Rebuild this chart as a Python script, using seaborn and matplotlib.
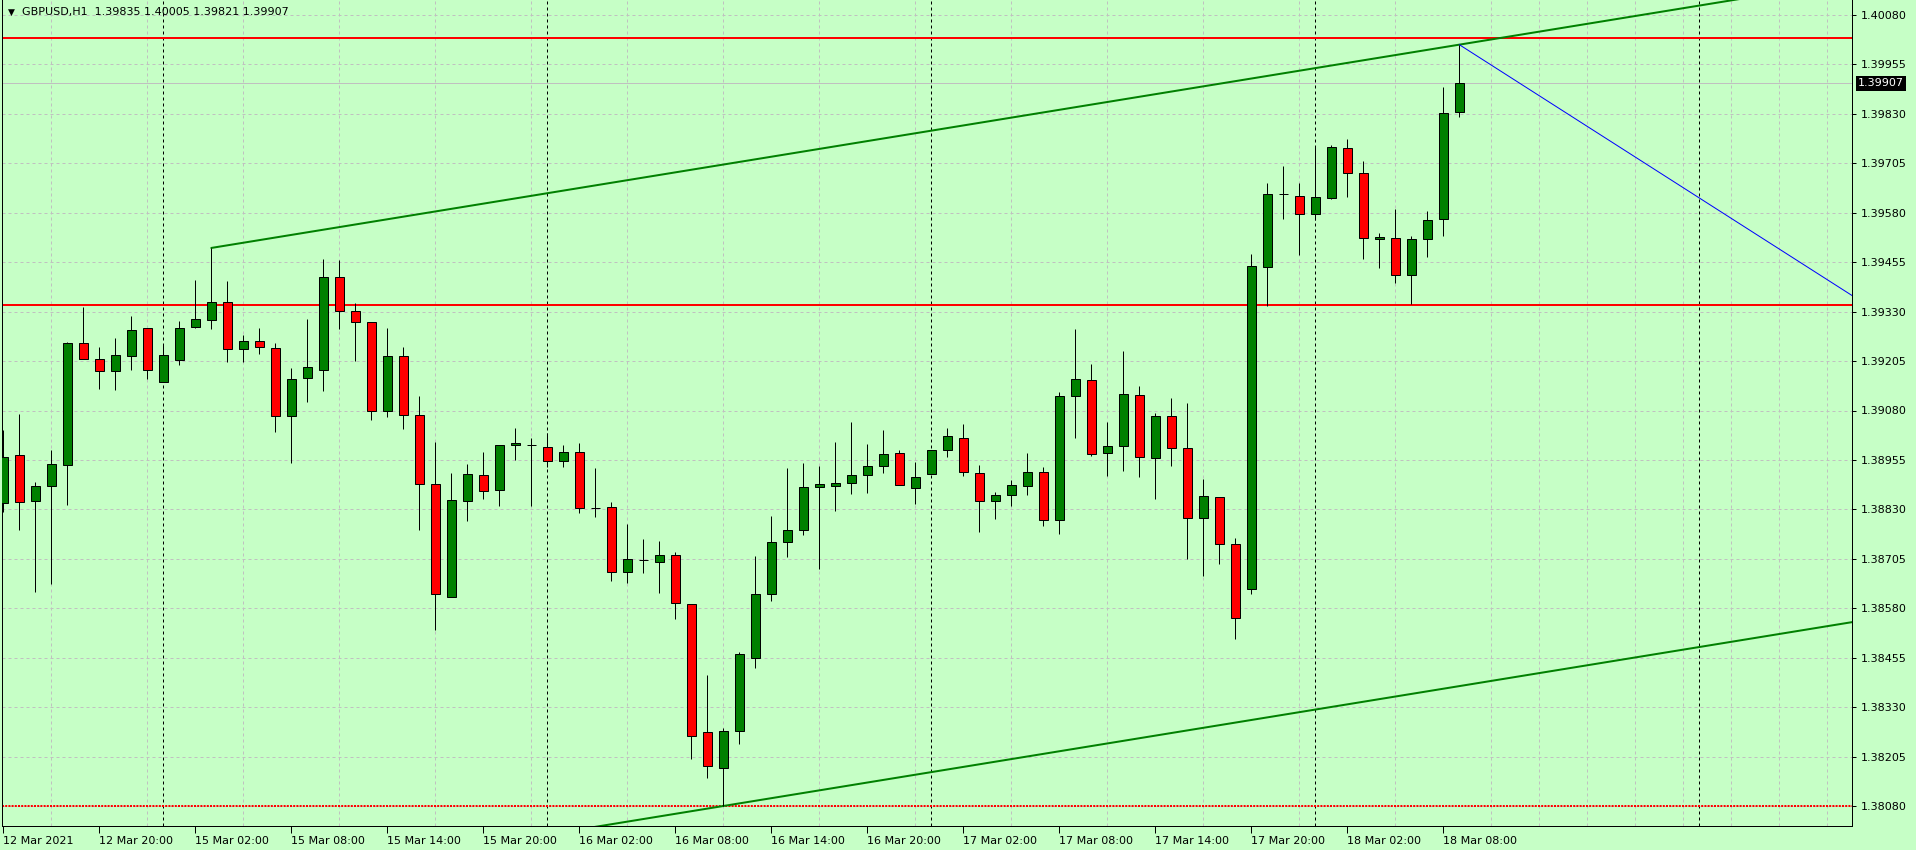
import numpy as np
import pandas as pd
import seaborn as sns
import matplotlib.pyplot as plt
import matplotlib.transforms as mtransforms

# GBPUSD H1, first bar = 12 Mar 2021 14:00
opens = [1.38845, 1.38967, 1.38850, 1.38888, 1.38941, 1.39250, 1.39209, 1.39179, 1.39217, 1.39288,
         1.39151, 1.39207, 1.39290, 1.39308, 1.39354, 1.39235, 1.39255, 1.39237, 1.39065, 1.39161,
         1.39182, 1.39417, 1.39331, 1.39303, 1.39078, 1.39217, 1.39068, 1.38893, 1.38608, 1.38850,
         1.38916, 1.38878, 1.38992, 1.38994, 1.38987, 1.38952, 1.38974, 1.38834, 1.38835, 1.38672,
         1.38702, 1.38698, 1.38714, 1.38590, 1.38266, 1.38177, 1.38269, 1.38453, 1.38615, 1.38748,
         1.38777, 1.38886, 1.38888, 1.38896, 1.38916, 1.38939, 1.38972, 1.38883, 1.38919, 1.38979,
         1.39010, 1.38921, 1.38850, 1.38866, 1.38888, 1.38924, 1.38802, 1.39116, 1.39156, 1.38972,
         1.38990, 1.39118, 1.38959, 1.39065, 1.38984, 1.38807, 1.38861, 1.38742, 1.38628, 1.39442,
         1.39627, 1.39622, 1.39576, 1.39617, 1.39743, 1.39680, 1.39513, 1.39515, 1.39422, 1.39513,
         1.39563, 1.39835]
highs = [1.39031, 1.39071, 1.38899, 1.38980, 1.39253, 1.39342, 1.39241, 1.39263, 1.39319, 1.39288,
         1.39246, 1.39306, 1.39410, 1.39491, 1.39407, 1.39270, 1.39288, 1.39250, 1.39187, 1.39311,
         1.39463, 1.39460, 1.39351, 1.39303, 1.39288, 1.39240, 1.39116, 1.39000, 1.38921, 1.38944,
         1.38975, 1.38992, 1.39036, 1.39010, 1.39022, 1.38992, 1.38998, 1.38935, 1.38849, 1.38793,
         1.38754, 1.38749, 1.38722, 1.38590, 1.38411, 1.38276, 1.38469, 1.38712, 1.38813, 1.38935,
         1.38947, 1.38940, 1.39000, 1.39051, 1.38995, 1.39031, 1.38979, 1.38950, 1.38979, 1.39036,
         1.39046, 1.38942, 1.38874, 1.38904, 1.38972, 1.38936, 1.39126, 1.39286, 1.39198, 1.39051,
         1.39230, 1.39142, 1.39074, 1.39112, 1.39099, 1.38907, 1.38861, 1.38758, 1.39475, 1.39654,
         1.39698, 1.39654, 1.39748, 1.39751, 1.39766, 1.39710, 1.39528, 1.39589, 1.39520, 1.39584,
         1.39897, 1.40005]
lows = [1.38824, 1.38779, 1.38622, 1.38641, 1.38842, 1.39209, 1.39135, 1.39133, 1.39182, 1.39160,
        1.39151, 1.39196, 1.39288, 1.39287, 1.39202, 1.39202, 1.39222, 1.39026, 1.38948, 1.39102,
        1.39129, 1.39287, 1.39206, 1.39057, 1.39064, 1.39034, 1.38779, 1.38526, 1.38608, 1.38801,
        1.38857, 1.38839, 1.38955, 1.38839, 1.38938, 1.38938, 1.38822, 1.38811, 1.38650, 1.38645,
        1.38670, 1.38619, 1.38554, 1.38200, 1.38152, 1.38080, 1.38238, 1.38430, 1.38599, 1.38710,
        1.38766, 1.38680, 1.38827, 1.38870, 1.38872, 1.38923, 1.38891, 1.38844, 1.38919, 1.38963,
        1.38915, 1.38774, 1.38806, 1.38839, 1.38867, 1.38789, 1.38769, 1.39011, 1.38966, 1.38915,
        1.38928, 1.38913, 1.38857, 1.38940, 1.38705, 1.38662, 1.38693, 1.38501, 1.38616, 1.39343,
        1.39565, 1.39474, 1.39561, 1.39614, 1.39619, 1.39464, 1.39441, 1.39403, 1.39349, 1.39469,
        1.39522, 1.39821]
closes = [1.38963, 1.38848, 1.38888, 1.38944, 1.39250, 1.39209, 1.39179, 1.39220, 1.39283, 1.39182,
          1.39220, 1.39288, 1.39311, 1.39354, 1.39235, 1.39255, 1.39240, 1.39065, 1.39159, 1.39189,
          1.39417, 1.39331, 1.39303, 1.39078, 1.39217, 1.39068, 1.38893, 1.38615, 1.38853, 1.38919,
          1.38876, 1.38992, 1.38997, 1.38994, 1.38952, 1.38974, 1.38833, 1.38834, 1.38672, 1.38704,
          1.38702, 1.38714, 1.38593, 1.38258, 1.38182, 1.38269, 1.38464, 1.38615, 1.38747, 1.38777,
          1.38886, 1.38893, 1.38896, 1.38916, 1.38939, 1.38969, 1.38891, 1.38911, 1.38979, 1.39015,
          1.38924, 1.38850, 1.38866, 1.38891, 1.38924, 1.38802, 1.39116, 1.39159, 1.38969, 1.38990,
          1.39121, 1.38962, 1.39065, 1.38984, 1.38807, 1.38863, 1.38742, 1.38555, 1.39445, 1.39627,
          1.39627, 1.39576, 1.39619, 1.39745, 1.39680, 1.39515, 1.39518, 1.39422, 1.39513, 1.39561,
          1.39831, 1.39907]

label_bars = [0, 6, 12, 18, 24, 30, 36, 42, 48, 54, 60, 66, 72, 78, 84, 90]
label_texts = ["12 Mar 2021", "12 Mar 20:00", "15 Mar 02:00", "15 Mar 08:00", "15 Mar 14:00",
               "15 Mar 20:00", "16 Mar 02:00", "16 Mar 08:00", "16 Mar 14:00", "16 Mar 20:00",
               "17 Mar 02:00", "17 Mar 08:00", "17 Mar 14:00", "17 Mar 20:00", "18 Mar 02:00",
               "18 Mar 08:00"]
day_breaks = [10, 34, 58, 82, 106]
price_ticks = [1.38080, 1.38205, 1.38330, 1.38455, 1.38580, 1.38705, 1.38830, 1.38955, 1.39080,
               1.39205, 1.39330, 1.39455, 1.39580, 1.39705, 1.39830, 1.39955, 1.40080]

level_prices = [1.40022, 1.39347]
support_price = 1.38080
bid_price = 1.39907
channel_bars = [13, 91]
channel_highs = [1.39491, 1.40005]
channel_low_bar = 45
channel_low_price = 1.38080
fall_bars = [91, 116]
fall_prices = [1.40005, 1.39359]

bg = "#C6FFC6"
bull = "#008000"
bear = "#FF0000"
grid_c = "#C0C0C0"
px = 0.72  # one pixel in points at 100 dpi

sns.set_style("ticks", {"axes.facecolor": bg, "figure.facecolor": bg,
                        "axes.edgecolor": "black", "xtick.color": "black",
                        "ytick.color": "black", "text.color": "black"})
plt.rcParams["font.family"] = ["DejaVu Sans"]

df = pd.DataFrame({"open": opens, "high": highs, "low": lows, "close": closes})
df["bar"] = np.arange(len(df))
df["bottom"] = df[["open", "close"]].min(axis=1)
df["body"] = (df["close"] - df["open"]).abs()
df["color"] = np.where(df["close"] >= df["open"], bull, bear)

fig = plt.figure(figsize=(19.16, 8.5), dpi=100)
ax = fig.add_axes([2 / 1916, 24 / 850, 1850 / 1916, 826 / 850])
ax.set_xlim(-1.3 / 16, 1848.7 / 16)
ax.set_ylim(1.38080 - 20 / 39550, 1.38080 + 806 / 39550)

# grid
ax.set_yticks(price_ticks)
ax.set_yticklabels([f"{p:.5f}" for p in price_ticks])
ax.set_xticks(label_bars)
ax.set_xticklabels(label_texts)
ax.set_xticks(np.arange(3, 116, 3), minor=True)
ax.grid(axis="y", which="major", color=grid_c, lw=px, ls=(0, (3, 3)), zorder=0)
ax.grid(axis="x", which="minor", color=grid_c, lw=px, ls=(0, (3, 3)), zorder=0)
ax.set_axisbelow(True)

for b in day_breaks:
    ax.axvline(b, color="black", lw=px, ls=(0, (3, 3)), zorder=1)

# horizontal levels
for p in level_prices:
    ax.axhline(p, color=bear, lw=2 * px, zorder=2)
ax.axhline(support_price, color=bear, lw=2 * px, ls=(0, (1, 0.6)), zorder=2)
ax.axhline(bid_price, color=grid_c, lw=px, zorder=2)

# equidistant channel
slope = (channel_highs[1] - channel_highs[0]) / (channel_bars[1] - channel_bars[0])
ext = [channel_bars[0], 130]
upper = [channel_highs[0] + slope * (x - channel_bars[0]) for x in ext]
lower = [channel_low_price + slope * (x - channel_low_bar) for x in ext]
sns.lineplot(x=ext, y=upper, color=bull, lw=2 * px, ax=ax, zorder=2)
sns.lineplot(x=ext, y=lower, color=bull, lw=2 * px, ax=ax, zorder=2)
sns.lineplot(x=fall_bars, y=fall_prices, color="#0000FF", lw=px, ax=ax, zorder=2)

# candles
ax.vlines(df["bar"], df["low"], df["high"], color="black", lw=px, zorder=3)
ax.bar(df["bar"], df["body"], bottom=df["bottom"], width=9 / 16, color=df["color"],
       edgecolor="black", linewidth=px, zorder=4)

# axes cosmetics
for side in ["left", "right", "bottom"]:
    ax.spines[side].set_visible(True)
    ax.spines[side].set_linewidth(px)
ax.spines["top"].set_visible(False)
ax.yaxis.tick_right()
ax.tick_params(axis="y", which="major", direction="out", length=3, width=px,
               pad=3, labelsize=8)
ax.tick_params(axis="x", which="major", direction="out", length=5, width=px,
               pad=2, labelsize=8)
ax.tick_params(axis="x", which="minor", length=0)
for lab in ax.get_xticklabels():
    lab.set_horizontalalignment("left")
ax.set_xlabel("")
ax.set_ylabel("")

# bid label
trans = mtransforms.blended_transform_factory(ax.transAxes, ax.transData)
ax.text(1 + 6 / 1850, bid_price, f"{bid_price:.5f}", transform=trans, ha="left", va="center",
        fontsize=8, color="white", zorder=6, clip_on=False,
        bbox=dict(boxstyle="square,pad=0.22", fc="black", ec="none"))

# header
fig.text(8 / 1916, 1 - 12 / 850, "\u25bc", fontsize=6.5, va="center", ha="left")
fig.text(22 / 1916, 1 - 12.5 / 850, "GBPUSD,H1  1.39835 1.40005 1.39821 1.39907",
         fontsize=8, va="center", ha="left")

fig.savefig("out.png", dpi=100, facecolor=bg)
